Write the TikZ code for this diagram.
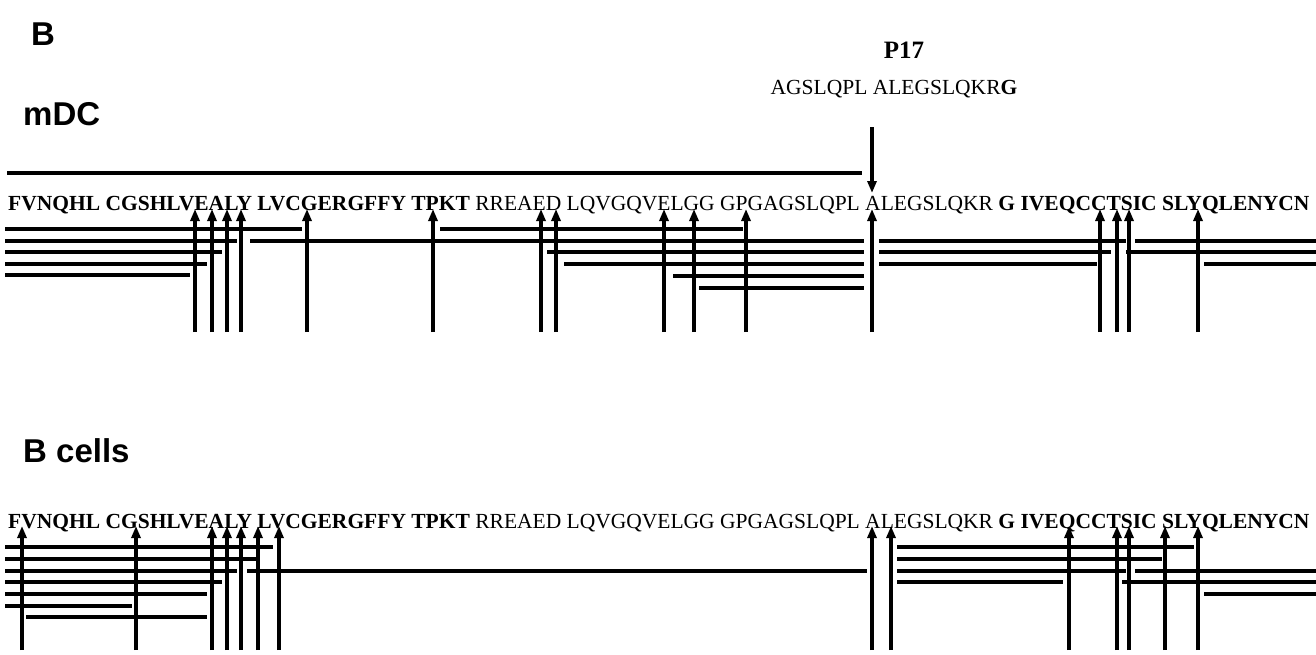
\documentclass[tikz,border=0pt]{standalone}
\usepackage{fontspec}
\setmainfont{Liberation Serif}
\setsansfont{Liberation Sans}
\usetikzlibrary{arrows.meta}
\tikzset{
  seqtext/.style={anchor=base west,inner sep=0pt,font=\fontsize{21.5}{24}\selectfont},
  paneltitle/.style={anchor=base west,inner sep=0pt,font=\sffamily\bfseries\fontsize{33}{38}\selectfont},
  peptitle/.style={anchor=base,inner sep=0pt,font=\bfseries\fontsize{25}{28}\selectfont},
  pepline/.style={line width=3.2pt},
  siteup/.style={line width=3.4pt,-{Triangle[length=12pt,width=9pt]}}
}
\newcommand{\fullseq}{\textbf{FVNQHL CGSHLVEALY LVCGERGFFY TPKT} RREAED LQVGQVELGG GPGAGSLQPL ALEGSLQKR \textbf{G IVEQCCTSIC SLYQLENYCN}}

\begin{document}
\begin{tikzpicture}[x=1pt,y=-1pt]
  \useasboundingbox (0,0) rectangle (1316,654);
  % titles
  \node[paneltitle] (panel) at (31,45) {B};
  \node[paneltitle] (mdc) at (23,125) {mDC};
  \node[paneltitle] (bcell) at (23,462) {B cells};
  % P17 peptide
  \node[peptitle] (p17) at (904,58) {P17};
  \node[anchor=base,inner sep=0pt,font=\fontsize{21.5}{24}\selectfont] (p17seq) at (894,94)
    {AGSLQPL ALEGSLQKR\textbf{G}};
  % mDC row
  \node[seqtext] (seqmdc) at (8,210) {\fullseq};
  \coordinate (p17top) at (872,127);
  \coordinate (p17site) at (872,193);
  \draw[siteup] (p17top) -- (p17site);
  \draw[pepline] (7,173) -- (862,173);
  \foreach \y/\a/\b in {229/5/302, 229/440/743,
      241/5/237, 241/250/864, 241/879/1126, 241/1135/1316,
      252/5/222, 252/547/864, 252/879/1111, 252/1126/1316,
      264/5/207, 264/564/864, 264/879/1097, 264/1204/1316,
      275/5/190, 276/673/864, 288/699/864}
    \draw[pepline] (\a,\y) -- (\b,\y);
  \foreach \x in {195,212,227,241,307,433,541,556,664,694,746,872,1100,1117,1129,1198}
    \draw[siteup] (\x,332) -- (\x,209);
  % B cell row
  \node[seqtext] (seqbc) at (8,528) {\fullseq};
  \foreach \y/\a/\b in {547/5/273, 547/897/1194,
      559/5/256, 559/897/1162,
      571/5/237, 571/247/867, 571/897/1126, 571/1135/1316,
      582/5/222, 582/897/1063, 582/1122/1316,
      594/5/207, 594/1204/1316,
      606/5/132, 617/26/207}
    \draw[pepline] (\a,\y) -- (\b,\y);
  \foreach \x in {22,136,212,227,241,258,279,872,891,1069,1117,1129,1165,1198}
    \draw[siteup] (\x,650) -- (\x,526);
\end{tikzpicture}
\end{document}
